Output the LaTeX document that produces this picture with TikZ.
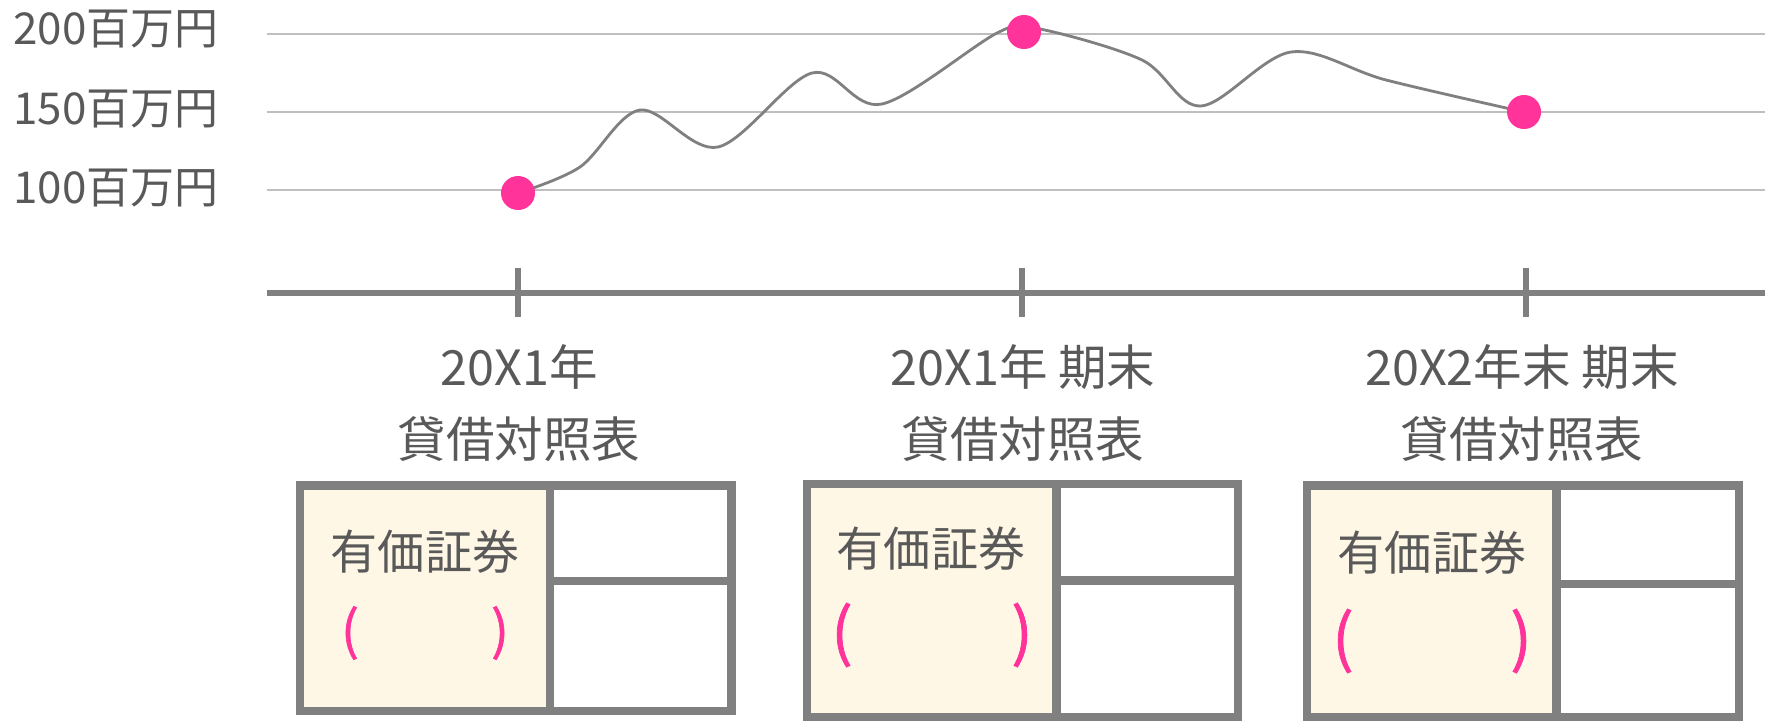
\documentclass[tikz,border=0pt]{standalone}
\usepackage{fontspec}
\setmainfont{Noto Sans CJK JP}
\newfontfamily\parenfont{Noto Sans CJK JP}[FakeBold=1.2]
\definecolor{lblgray}{HTML}{595959}
\definecolor{linegray}{HTML}{808080}
\definecolor{gridgray}{HTML}{BFBFBF}
\definecolor{dotpink}{HTML}{FF3399}
\definecolor{secfill}{HTML}{FFF7E6}

\begin{document}
\begin{tikzpicture}[
  ylab/.style={anchor=east, inner sep=0pt, text=lblgray, font=\fontsize{12.5}{14}\selectfont},
  tlab/.style={inner sep=0pt, text=lblgray, font=\fontsize{13.8}{16}\selectfont},
  seclab/.style={inner sep=0pt, text=lblgray, font=\fontsize{13.4}{16}\selectfont},
  paren/.style={inner sep=0pt, text=dotpink, font=\parenfont\fontsize{#1}{#1}\selectfont},
  gridline/.style={draw=gridgray, line width=0.75pt},
  axisline/.style={draw=linegray, line width=1.5pt},
  curve/.style={draw=linegray, line width=0.8pt},
  pdot/.style={circle, fill=dotpink, minimum size=0.34cm, inner sep=0pt},
  bsframe/.style={draw=linegray, line width=2.3pt}
]
  \useasboundingbox (0,0) rectangle (17.65,7.21);

  \draw[gridline] (2.665,6.87) -- (17.65,6.87);
  \draw[gridline] (2.665,6.09) -- (17.65,6.09);
  \draw[gridline] (2.665,5.31) -- (17.65,5.31);
  \node[ylab] (y200) at (2.19,6.92) {200百万円};
  \node[ylab] (y150) at (2.19,6.12) {150百万円};
  \node[ylab] (y100) at (2.19,5.33) {100百万円};

  \draw[axisline] (2.665,4.28) -- (17.65,4.28);
  \draw[axisline] (5.18,4.04) -- (5.18,4.53);
  \draw[axisline] (10.22,4.04) -- (10.22,4.53);
  \draw[axisline] (15.26,4.04) -- (15.26,4.53);

  \draw[curve] plot[smooth, tension=0.55] coordinates {(5.18,5.28) (5.80,5.54) (6.40,6.11) (7.18,5.74) (8.12,6.48) (8.82,6.17) (9.99,6.89) (10.40,6.92) (11.42,6.61) (12.01,6.15) (12.91,6.69) (13.86,6.41) (15.24,6.09)};
  \node[pdot] (p1) at (5.18,5.28) {};
  \node[pdot] (p2) at (10.24,6.89) {};
  \node[pdot] (p3) at (15.24,6.09) {};

  \node[tlab] (t1) at (5.19,3.54) {20X1年};
  \node[tlab] (b1) at (5.19,2.82) {貸借対照表};
  \node[tlab] (t2) at (10.23,3.54) {20X1年 期末};
  \node[tlab] (b2) at (10.23,2.82) {貸借対照表};
  \node[tlab] (t3) at (15.22,3.54) {20X2年末 期末};
  \node[tlab] (b3) at (15.22,2.82) {貸借対照表};

  \fill[secfill] (3.00,0.10) rectangle (5.50,2.355);
  \draw[bsframe] (3.00,0.10) rectangle (7.315,2.355);
  \draw[bsframe] (5.50,0.10) -- (5.50,2.355);
  \draw[bsframe] (5.50,1.40) -- (7.315,1.40);
  \node[seclab] (s1) at (4.25,1.69) {有価証券};
  \node[paren=15] (l1) at (3.50,0.88) {(};
  \node[paren=15] (r1) at (5.00,0.88) {)};

  \fill[secfill] (8.07,0.04) rectangle (10.565,2.37);
  \draw[bsframe] (8.07,0.04) rectangle (12.38,2.37);
  \draw[bsframe] (10.565,0.04) -- (10.565,2.37);
  \draw[bsframe] (10.565,1.405) -- (12.38,1.405);
  \node[seclab] (s2) at (9.31,1.72) {有価証券};
  \node[paren=18] (l2) at (8.42,0.86) {(};
  \node[paren=18] (r2) at (10.22,0.86) {)};

  \fill[secfill] (13.07,0.04) rectangle (15.565,2.355);
  \draw[bsframe] (13.07,0.04) rectangle (17.39,2.355);
  \draw[bsframe] (15.565,0.04) -- (15.565,2.355);
  \draw[bsframe] (15.565,1.37) -- (17.39,1.37);
  \node[seclab] (s3) at (14.32,1.68) {有価証券};
  \node[paren=18] (l3) at (13.43,0.80) {(};
  \node[paren=18] (r3) at (15.21,0.80) {)};
\end{tikzpicture}
\end{document}
